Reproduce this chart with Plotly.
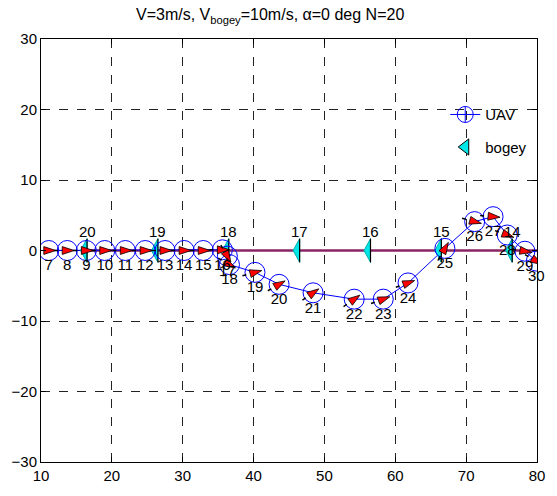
import numpy as np
import plotly.graph_objects as go

# ---------------- data ----------------
uav_id = list(range(6, 31))
uav_x = [8.4, 11.1, 13.7, 16.4, 19.0, 21.9, 24.7, 27.5, 30.2, 32.9, 35.6, 36.3, 36.6,
         40.2, 43.6, 48.4, 54.2, 58.3, 61.8, 67.0, 71.2, 73.8, 75.8, 78.3, 79.9]
uav_y = [0, 0, 0, 0, 0, 0, 0, 0, 0, 0, 0.1, -0.8, -2.0,
         -3.1, -4.8, -6.0, -6.9, -6.9, -4.6, 0.3, 4.1, 4.8, 2.2, -0.1, -1.5]
uav_heading = [0, 0, 0, 0, 0, 0, 0, 0, 0, 0, 0, -60, -30,
               15, 30, 35, 35, 20, 20, 60, -15, -5, -20, -10, -30]

bogey_id = [20, 19, 18, 17, 16, 15, 14]
bogey_x = [16.5, 26.5, 36.5, 46.5, 56.5, 66.5, 76.5]
bogey_y = [0, 0, 0, 0, 0, 0, 0]
bogey_path_x = [16.5, 26.5, 36.5, 46.5, 56.5, 66.5, 76.5, 86.5]
bogey_path_y = [0, 0, 0, 0, 0, 0, 0, 0]

x_ticks = [10, 20, 30, 40, 50, 60, 70, 80]
y_ticks = [-30, -20, -10, 0, 10, 20, 30]

FONT = "Liberation Sans, Arial, sans-serif"

# pixel -> data conversion for glyph sizes (plot area 496 x 428 px)
PX_X = 70.0 / 496.0
PX_Y = 60.0 / 428.0

fig = go.Figure()

# bogey path
fig.add_trace(go.Scatter(x=bogey_path_x, y=bogey_path_y, mode="lines",
                         line=dict(color="#8a2565", width=2.5),
                         showlegend=False, hoverinfo="skip"))

# UAV path
fig.add_trace(go.Scatter(x=uav_x, y=uav_y, mode="lines",
                         line=dict(color="#0000ff", width=1),
                         showlegend=False, hoverinfo="skip"))

# bogey glyphs (narrow triangles pointing left)
half_h = 12 * PX_Y
w = 6.5 * PX_X
gx, gy, ex, ey = [], [], [], []
for bx, by in zip(bogey_x, bogey_y):
    gx += [bx - w, bx, bx, bx - w, None]
    gy += [by, by + half_h, by - half_h, by, None]
    ex += [bx, bx, None]
    ey += [by + half_h, by - half_h, None]
fig.add_trace(go.Scatter(x=gx, y=gy, mode="lines", fill="toself",
                         fillcolor="#00e5e5", line=dict(color="#00b0b0", width=1),
                         showlegend=False, hoverinfo="skip"))
fig.add_trace(go.Scatter(x=ex, y=ey, mode="lines",
                         line=dict(color="black", width=1.2),
                         showlegend=False, hoverinfo="skip"))

# UAV circles
fig.add_trace(go.Scatter(x=uav_x, y=uav_y, mode="markers",
                         marker=dict(symbol="circle-open", size=20,
                                     line=dict(color="#0000ff", width=1), color="#0000ff"),
                         showlegend=False, hoverinfo="skip"))

# UAV heading arrowheads (red, black outline) and small black tails
tx, ty, lx, ly = [], [], [], []
for cx, cy, h in zip(uav_x, uav_y, uav_heading):
    r = np.deg2rad(h)
    dx, dy = np.cos(r), np.sin(r)
    px_, py_ = -dy, dx
    tip = (cx + 7 * dx * PX_X, cy + 7 * dy * PX_Y)
    b1 = (cx + (-5 * dx + 4 * px_) * PX_X, cy + (-5 * dy + 4 * py_) * PX_Y)
    b2 = (cx + (-5 * dx - 4 * px_) * PX_X, cy + (-5 * dy - 4 * py_) * PX_Y)
    tx += [tip[0], b1[0], b2[0], tip[0], None]
    ty += [tip[1], b1[1], b2[1], tip[1], None]
    lx += [cx - 9 * dx * PX_X, cx - 13 * dx * PX_X, None]
    ly += [cy - 9 * dy * PX_Y, cy - 13 * dy * PX_Y, None]
fig.add_trace(go.Scatter(x=tx, y=ty, mode="lines", fill="toself",
                         fillcolor="#ff0000", line=dict(color="black", width=0.8),
                         showlegend=False, hoverinfo="skip"))
fig.add_trace(go.Scatter(x=lx, y=ly, mode="lines",
                         line=dict(color="black", width=1.5),
                         showlegend=False, hoverinfo="skip"))

# UAV number labels (text trace, not clipped so label 30 shows past the edge)
lab_x = [x for i, x in zip(uav_id, uav_x) if i >= 7]
lab_y = [y for i, y in zip(uav_id, uav_y) if i >= 7]
lab_t = [str(i) for i in uav_id if i >= 7]
fig.add_trace(go.Scatter(x=lab_x, y=lab_y, mode="markers+text", text=lab_t,
                         textposition="bottom center", cliponaxis=False,
                         marker=dict(size=12, opacity=0),
                         textfont=dict(family=FONT, size=15, color="black"),
                         showlegend=False, hoverinfo="skip"))

# legend entries
fig.add_trace(go.Scatter(x=[None], y=[None], mode="lines+markers", name="UAV",
                         legendgroup="a",
                         line=dict(color="#0000ff", width=1),
                         marker=dict(symbol="circle-cross-open", size=16,
                                     line=dict(color="#0000ff", width=1))))
fig.add_trace(go.Scatter(x=[None], y=[None], mode="markers", name="bogey",
                         legendgroup="b",
                         marker=dict(symbol="triangle-left", size=14, color="#00e5e5",
                                     line=dict(color="black", width=1))))

for i, x, y in zip(bogey_id, bogey_x, bogey_y):
    fig.add_annotation(x=x, y=y, text=str(i), showarrow=False, yshift=19,
                       font=dict(family=FONT, size=15, color="black"))

axis_common = dict(showline=True, linecolor="black", linewidth=1, mirror="ticks",
                   ticks="inside", ticklen=5, tickcolor="black",
                   showgrid=True, gridcolor="#222222", gridwidth=1, griddash="dash",
                   zeroline=False, tickfont=dict(family=FONT, size=15, color="black"))

fig.update_layout(
    width=557, height=496,
    margin=dict(l=41, r=20, t=39, b=29),
    paper_bgcolor="white", plot_bgcolor="white",
    title=dict(text="V=3m/s, V<sub>bogey</sub>=10m/s, α=0 deg N=20",
               x=0.485, xanchor="center", y=0.97, yanchor="middle",
               font=dict(family=FONT, size=16, color="black")),
    xaxis=dict(range=[10, 80], tickvals=x_ticks, **axis_common),
    yaxis=dict(range=[-30, 30], tickvals=y_ticks, **axis_common),
    legend=dict(x=0.815, y=0.86, xanchor="left", yanchor="top",
                bgcolor="rgba(0,0,0,0)", borderwidth=0,
                font=dict(family=FONT, size=15, color="black"),
                tracegroupgap=10, traceorder="grouped"),
    showlegend=True,
)

fig.write_html("out.html")
